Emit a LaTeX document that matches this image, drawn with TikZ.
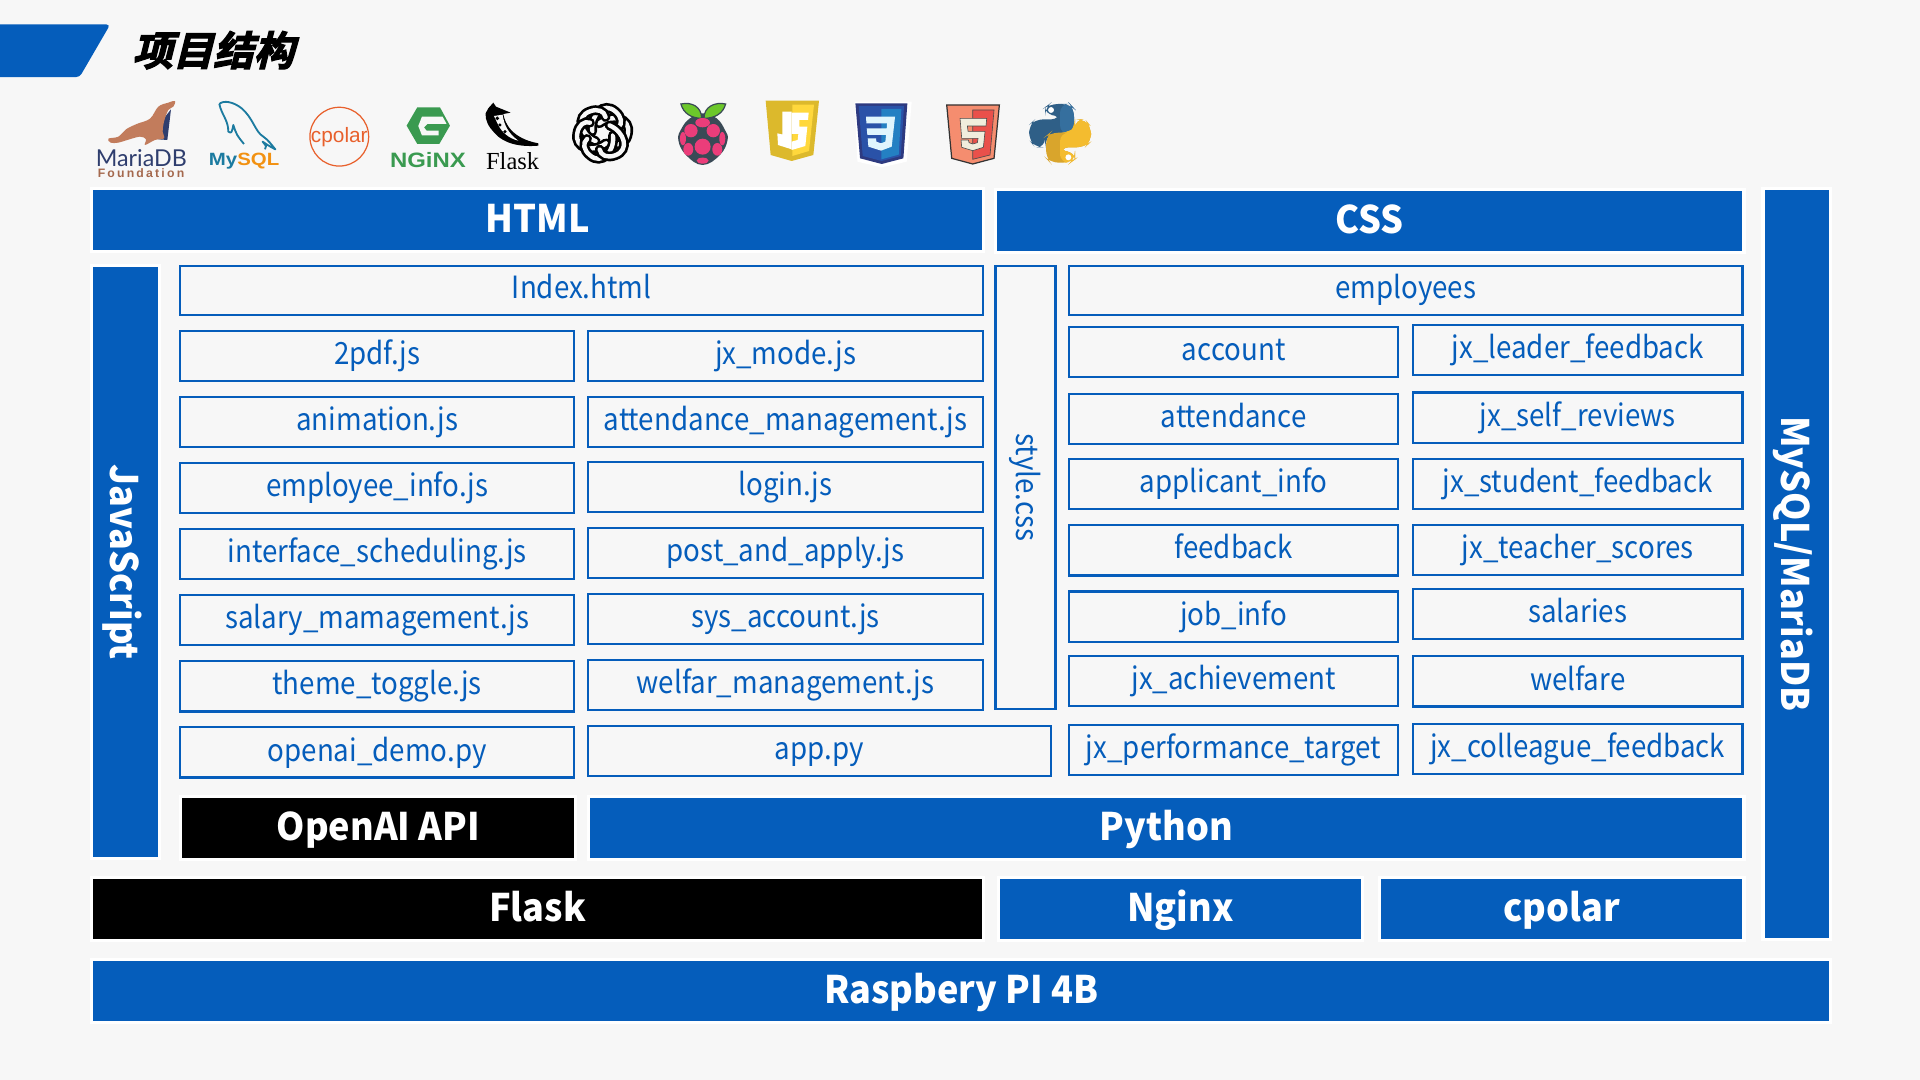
\documentclass[tikz,border=0pt]{standalone}
\usepackage{fontspec}
\setmainfont{Noto Sans CJK SC}
\newfontfamily\titlefont[FakeSlant=0.25,FakeBold=3]{Noto Sans CJK SC Bold}
\newfontfamily\filefont[FakeStretch=0.905]{Noto Sans CJK SC}
\newfontfamily\barfont[BoldFeatures={FakeStretch=0.95}]{Noto Sans CJK SC}
\newfontfamily\logofont{Liberation Sans}
\newfontfamily\widefont[FakeStretch=1.15]{Liberation Sans Bold}
\newfontfamily\mariafont{Lato}
\newfontfamily\flaskfont{Liberation Serif}
\definecolor{barblue}{HTML}{055DBB}
\definecolor{pagegray}{HTML}{F7F7F7}
\definecolor{sealbrown}{HTML}{C27C5C}
\definecolor{mariablue}{HTML}{2F3E6E}
\definecolor{mysqlteal}{HTML}{1C7BA0}
\definecolor{mysqlorange}{HTML}{F29111}
\definecolor{cpolarred}{HTML}{E8602C}
\definecolor{nginxgreen}{HTML}{3A9A50}
\definecolor{berrypink}{HTML}{EB3D7A}
\definecolor{berrydark}{HTML}{3A4A56}
\definecolor{leafgreen}{HTML}{6CC72B}
\definecolor{jsdark}{HTML}{DCB92C}
\definecolor{jslight}{HTML}{FFD83C}
\definecolor{cssborder}{HTML}{2E3A80}
\definecolor{cssdark}{HTML}{2A52A8}
\definecolor{csslight}{HTML}{2480C3}
\definecolor{htmlsalmon}{HTML}{F58D6F}
\definecolor{htmlred}{HTML}{E9504B}
\definecolor{htmlcream}{HTML}{F0EDDD}
\definecolor{pydark}{HTML}{2F5F87}
\definecolor{pylight}{HTML}{356F9E}
\definecolor{pyyellow}{HTML}{F4BC2F}
\definecolor{pygold}{HTML}{D9A52C}

\begin{document}
\begin{tikzpicture}[
    x=1pt, y=-1pt,
    filebox/.style={rectangle, draw=barblue, line width=1.8pt, text=barblue, inner sep=0pt,
      font=\filefont\fontsize{25}{30}\selectfont, text height=20pt, text depth=6pt, minimum height=41pt},
    jsbox/.style={filebox, minimum width=322pt},
    modebox/.style={filebox, minimum width=323pt},
    tablebox/.style={filebox, minimum width=269pt},
    bar/.style={rectangle, fill=barblue, draw=white, line width=2.5pt, text=white, inner sep=0pt,
      font=\barfont\bfseries\fontsize{31}{34}\selectfont, text height=24pt, text depth=3pt, minimum height=51.5pt},
    blackbar/.style={bar, fill=black},
    sidebar/.style={bar, rotate=-90, text height=26pt, text depth=1pt, minimum height=55.5pt},
    berry/.style={fill=berrypink}
  ]
  \fill [pagegray] (0,0) rectangle (1568,882);
  \useasboundingbox (0,0) rectangle (1568,882);

  \fill [barblue, rounded corners=3pt] (-5,20) -- (90,20) -- (65,63) -- (-5,63) -- cycle;
  \node (title) [inner sep=0pt, anchor=west, font=\titlefont\fontsize{33}{36}\selectfont] at (108,41) {项目结构};

  % mariadb and mysql
  \begin{scope}[shift={(73.5,73.5)}, x=0.2722pt, y=-0.2722pt]
    \fill [mariablue] (210,100) -- (243,58) -- (232,150) -- (205,148) -- cycle;
    \fill [sealbrown] plot [smooth cycle, tension=0.6] coordinates {(55,146) (85,140) (108,118) (140,102) (180,86) (205,50) (235,38) (255,33) (250,50) (235,60) (222,95) (218,125) (222,145) (195,150) (165,165) (168,148) (150,140) (112,150) (85,158) (62,158)};
    \node (maria_text) [inner sep=0pt, text=mariablue, font=\mariafont\fontsize{19}{20}\selectfont] at (154,203) {MariaDB};
    \node (maria_sub) [inner sep=0pt, text=sealbrown!85!black, font=\logofont\bfseries\addfontfeature{LetterSpace=18}\fontsize{10}{11}\selectfont] at (153,248) {Foundation};
    \draw [mysqlteal, line width=1.5pt, line join=round] (388,42) .. controls (400,30) and (430,35) .. (455,55) .. controls (490,85) and (495,125) .. (520,140) .. controls (535,150) and (545,165) .. (556,178) .. controls (540,170) and (525,160) .. (518,155) .. controls (530,170) .. (525,178);
    \draw [mysqlteal, line width=1.5pt, line join=round] (388,42) .. controls (395,75) and (415,90) .. (415,125) .. controls (425,130) .. (430,105) .. controls (440,135) .. (462,162);
    \node (mysql_text) [inner sep=0pt, anchor=west, font=\widefont\fontsize{14.5}{16}\selectfont] at (356,213) {\textcolor{mysqlteal}{My}\textcolor{mysqlorange}{SQL}};
  \end{scope}

  % cpolar and nginx
  \begin{scope}[shift={(236.8,73.5)}, x=0.2722pt, y=-0.2722pt]
    \draw [cpolarred, line width=1pt] (148,140) circle (24pt);
    \node (cpolar_text) [inner sep=0pt, text=cpolarred, font=\logofont\fontsize{17}{19}\selectfont] at (148,142) {cpolar};
    \fill [nginxgreen] (350,107) -- (382,52) -- (450,52) -- (480,107) -- (448,162) -- (382,162) -- cycle;
    \fill [pagegray] (396,80) -- (458,80) -- (470,102) -- (412,102) -- (402,112) -- (410,122) -- (446,122) -- (446,136) -- (396,136) -- (385,108) -- cycle;
    \node (nginx_text) [inner sep=0pt, text=nginxgreen, font=\widefont\fontsize{17}{18}\selectfont] at (414,209) {NGiNX};
  \end{scope}

  % flask
  \begin{scope}[shift={(383.8,73.5)}, x=0.2722pt, y=-0.2722pt]
    \fill [black] (70,38) -- (78,50) -- (122,68) -- (100,72) .. controls (105,100) and (125,145) .. (205,160) -- (205,167) .. controls (150,172) and (100,160) .. (75,130) .. controls (55,110) and (45,90) .. (47,70) -- (55,55) -- cycle;
    \fill [pagegray] (72,78) -- (98,74) .. controls (102,105) and (115,130) .. (145,152) .. controls (115,145) and (95,125) .. (85,105) -- cycle;
    \fill [black] (82,85) circle (1.6pt);
    \fill [black] (90,105) circle (1.4pt);
    \fill [black] (105,125) circle (1.4pt);
    \node (flask_text) [inner sep=0pt, font=\flaskfont\fontsize{20}{22}\selectfont] at (128,213) {Flask};
  \end{scope}

  % openai
  \begin{scope}[shift={(457.3,73.5)}, x=0.2722pt, y=-0.2722pt]
    \foreach \a in {0,60,120,180,240,300} {
      \begin{scope}[shift={(128,130)}, rotate=\a]
        \draw [black, line width=8pt, line cap=round] (-10,-30) .. controls (30,-60) and (85,-45) .. (76,0) .. controls (72,25) and (55,38) .. (38,32);
        \draw [pagegray, line width=3.6pt, line cap=round] (-10,-30) .. controls (30,-60) and (85,-45) .. (76,0) .. controls (72,25) and (55,38) .. (38,32);
      \end{scope}
    }
    % raspberry pi
    \fill [berrydark] plot [smooth cycle, tension=0.7] coordinates {(428,70) (470,85) (495,120) (503,150) (480,195) (428,225) (378,195) (355,150) (365,115) (390,85)};
    \filldraw [leafgreen, draw=berrydark, line width=1pt] (425,85) .. controls (395,85) and (370,70) .. (363,42) .. controls (395,35) and (425,50) .. (425,85) -- cycle;
    \filldraw [leafgreen, draw=berrydark, line width=1pt] (432,85) .. controls (465,85) and (490,70) .. (497,42) .. controls (465,35) and (432,50) .. (432,85) -- cycle;
    \fill [berry] (428,98) ellipse [x radius=22, y radius=14];
    \fill [berry] (393,122) ellipse [x radius=20, y radius=20];
    \fill [berry] (460,122) ellipse [x radius=20, y radius=20];
    \fill [berry] (369,146) ellipse [x radius=9, y radius=20];
    \fill [berry] (487,146) ellipse [x radius=9, y radius=20];
    \fill [berry] (428,170) ellipse [x radius=24, y radius=24];
    \fill [berry] (385,178) ellipse [x radius=15, y radius=19];
    \fill [berry] (472,178) ellipse [x radius=15, y radius=19];
    \fill [berry] (428,212) ellipse [x radius=18, y radius=9];
  \end{scope}

  % js
  \begin{scope}[shift={(612.5,73.5)}, x=0.2722pt, y=-0.2722pt]
    \fill [jsdark] (47,32) -- (207,32) -- (190,195) -- (125,213) -- (62,195) -- cycle;
    \fill [jslight] (127,44) -- (192,44) -- (177,183) -- (127,198) -- cycle;
    \fill [white] (97,65) -- (125,65) -- (125,178) -- (84,165) -- (82,130) -- (104,135) -- (105,150) -- (97,150) -- cycle;
    \fill [white] (125,68) -- (176,68) -- (174,90) -- (148,90) -- (148,110) -- (172,110) -- (166,168) -- (125,180) -- (125,155) -- (143,150) -- (145,132) -- (125,132) -- cycle;
  \end{scope}

  % css, html and python
  \begin{scope}[shift={(694.2,73.5)}, x=0.2722pt, y=-0.2722pt]
    \fill [white] (14,35) -- (185,35) -- (170,215) -- (95,232) -- (22,215) -- cycle;
    \fill [cssborder] (16,40) -- (172,40) -- (160,205) -- (95,222) -- (30,205) -- cycle;
    \fill [cssdark] (26,48) -- (162,48) -- (152,198) -- (95,213) -- (38,198) -- cycle;
    \fill [csslight] (94,57) -- (154,57) -- (146,194) -- (94,208) -- cycle;
    \fill [white!88!cyan] (48,80) -- (135,80) -- (125,170) -- (93,182) -- (55,170) -- (53,145) -- (78,145) -- (79,155) -- (93,160) -- (106,155) -- (108,135) -- (52,135) -- (50,115) -- (110,115) -- (111,100) -- (49,100) -- cycle;
    \filldraw [htmlsalmon, draw=black!80, line width=1pt] (290,45) -- (448,45) -- (432,205) -- (368,222) -- (305,205) -- cycle;
    \filldraw [htmlred, draw=black!70, line width=0.5pt] (368,60) -- (432,60) -- (420,195) -- (368,208) -- cycle;
    \filldraw [htmlcream, draw=black!70, line width=0.5pt] (330,85) -- (410,85) -- (408,108) -- (352,108) -- (354,124) -- (405,124) -- (400,172) -- (368,182) -- (335,172) -- (333,150) -- (355,150) -- (357,158) -- (368,162) -- (382,158) -- (384,145) -- (335,145) -- cycle;
    \fill [pydark, rounded corners=7pt] (598,42) -- (660,42) -- (672,55) -- (672,122) -- (660,132) -- (600,132) -- (585,148) -- (585,172) -- (555,172) -- (537,150) -- (537,105) -- (555,88) -- (630,88) -- (630,75) -- (585,75) -- (585,52) -- cycle;
    \fill [pylight, rounded corners=7pt] (630,42) -- (660,42) -- (672,55) -- (672,122) -- (660,132) -- (630,132) -- cycle;
    \fill [pygold, rounded corners=7pt] (662,218) -- (600,218) -- (588,205) -- (588,138) -- (600,128) -- (660,128) -- (675,112) -- (675,88) -- (705,88) -- (723,110) -- (723,155) -- (705,172) -- (630,172) -- (630,185) -- (675,185) -- (675,208) -- cycle;
    \fill [pyyellow, rounded corners=7pt] (630,218) -- (662,218) -- (675,208) -- (675,185) -- (630,185) -- (630,172) -- (705,172) -- (723,155) -- (723,110) -- (705,88) -- (675,88) -- (675,112) -- (660,128) -- (630,128) -- cycle;
    \fill [white] (603,60) circle (2.4pt);
    \fill [white] (655,202) circle (2.4pt);
  \end{scope}

  \node (html) [bar, minimum width=728.5pt] at (439,179.5) {HTML};
  \node (css) [bar, minimum width=611.5pt] at (1118.5,180.5) {CSS};
  \node (javascript) [sidebar, minimum width=484.5pt] at (102.5,459) {JavaScript};
  \node (mariadb) [sidebar, minimum width=613.5pt] at (1467.5,460.5) {MySQL/MariaDB};

  \node (index_html) [filebox, minimum width=656pt, minimum height=40pt] at (475,237) {Index.html};
  \node (pdf_js) [jsbox] at (308,290.5) {2pdf.js};
  \node (animation_js) [jsbox] at (308,344.5) {animation.js};
  \node (employee_js) [jsbox] at (308,398.5) {employee\_info.js};
  \node (interface_js) [jsbox] at (308,452.5) {interface\_scheduling.js};
  \node (salary_js) [jsbox] at (308,506.5) {salary\_mamagement.js};
  \node (theme_js) [jsbox] at (308,560.5) {theme\_toggle.js};
  \node (openai_py) [jsbox] at (308,614.5) {openai\_demo.py};

  \node (mode_js) [modebox] at (641.5,290.5) {jx\_mode.js};
  \node (attendance_js) [modebox] at (641.5,344.5) {attendance\_management.js};
  \node (login_js) [modebox] at (641.5,397.5) {login.js};
  \node (post_js) [modebox] at (641.5,451.5) {post\_and\_apply.js};
  \node (account_js) [modebox] at (641.5,505.5) {sys\_account.js};
  \node (welfar_js) [modebox] at (641.5,559.5) {welfar\_management.js};
  \node (app_py) [filebox, minimum width=378pt] at (669,613.5) {app.py};

  \node (style_css) [filebox, rotate=-90, minimum width=362pt, minimum height=49pt] at (837.5,398) {style.css};

  \node (employees) [filebox, minimum width=550pt, minimum height=40pt] at (1148,237) {employees};
  \node (account) [tablebox] at (1007.5,287.5) {account};
  \node (attendance) [tablebox] at (1007.5,342) {attendance};
  \node (applicant) [tablebox] at (1007.5,395.5) {applicant\_info};
  \node (feedback) [tablebox] at (1007.5,449.5) {feedback};
  \node (job_info) [tablebox] at (1007.5,503.5) {job\_info};
  \node (achievement) [tablebox] at (1007.5,556) {jx\_achievement};
  \node (target) [tablebox] at (1007.5,612.5) {jx\_performance\_target};

  \node (leader) [tablebox] at (1288.5,286) {jx\_leader\_feedback};
  \node (self) [tablebox] at (1288.5,341) {jx\_self\_reviews};
  \node (student) [tablebox] at (1288.5,395.5) {jx\_student\_feedback};
  \node (teacher) [tablebox] at (1288.5,449) {jx\_teacher\_scores};
  \node (salaries) [tablebox] at (1288.5,501.5) {salaries};
  \node (welfare) [tablebox] at (1288.5,556.5) {welfare};
  \node (colleague) [tablebox] at (1288.5,611.5) {jx\_colleague\_feedback};

  \node (openai_api) [blackbar, minimum width=322.5pt] at (309,676) {OpenAI API};
  \node (python) [bar, minimum width=943.5pt] at (952.5,676) {Python};
  \node (flask) [blackbar, minimum width=728.5pt] at (439,742) {Flask};
  \node (nginx) [bar, minimum width=297pt] at (964,742) {Nginx};
  \node (cpolar) [bar, minimum width=297.5pt] at (1275.5,742) {cpolar};
  \node (raspberry) [bar, minimum width=1420.5pt] at (785,809) {Raspbery PI 4B};
\end{tikzpicture}
\end{document}
